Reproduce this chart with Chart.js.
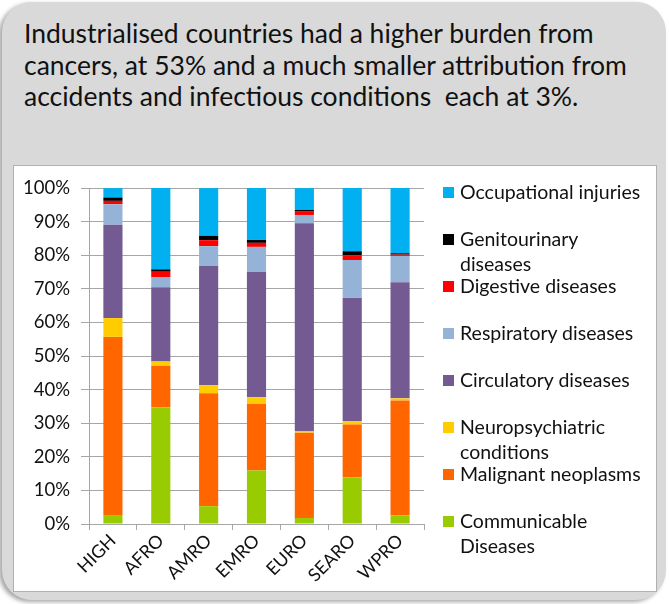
<!DOCTYPE html>
<html lang="en">
<head>
    <meta charset="UTF-8">
    <title>Burden by region</title>
    <script src="https://cdn.jsdelivr.net/npm/chart.js"></script>
    <style>
        html, body {
            margin: 0;
            padding: 0;
            background: #ffffff;
        }
        body {
            width: 669px;
            height: 604px;
            position: relative;
            overflow: hidden;
            font-family: Lato, "Open Sans", sans-serif;
        }
        .panel {
            position: absolute;
            left: 2px;
            top: 2px;
            width: 664px;
            height: 598px;
            background: #d9d9d9;
            border-radius: 30px;
            box-shadow: -3px 2px 4px rgba(0,0,0,0.35);
        }
        .title {
            position: absolute;
            left: 24px;
            top: 18px;
            font-size: 26.5px;
            line-height: 31.5px;
            color: #111;
            white-space: nowrap;
        }
        .chart-box {
            position: absolute;
            left: 13px;
            top: 165px;
            width: 642px;
            height: 425px;
            background: #fff;
            border: 1px solid #b0b0b0;
        }
        .legend {
            position: absolute;
            left: 0;
            top: 0;
        }
        .legend-item {
            position: absolute;
            left: 428px;
            font-size: 19.5px;
            line-height: 24.5px;
            color: #111;
            padding-left: 18px;
            white-space: nowrap;
        }
        .legend-item span.box {
            position: absolute;
            left: 1px;
            top: 7px;
            width: 11px;
            height: 11px;
        }
    </style>
</head>
<body>
    <div class="panel"></div>
    <div class="title">Industrialised countries had a higher burden from<br>cancers, at 53% and a much smaller attribution from<br>accidents and infectious conditions&nbsp; each at 3%.</div>

    <div class="chart-box">
        <canvas id="burdenChart" width="642" height="425"></canvas>
        <div class="legend" id="legend"></div>
    </div>

    <script>
        // Регионы
        const regions = ['HIGH', 'AFRO', 'AMRO', 'EMRO', 'EURO', 'SEARO', 'WPRO'];

        // Доли по группам причин, % (снизу вверх)
        const communicable   = [2.7, 34.7, 5.3, 15.9, 1.8, 13.9, 2.5];
        const malignant      = [53.0, 12.4, 33.6, 19.8, 25.4, 15.7, 34.3];
        const neuro          = [5.6, 1.3, 2.4, 2.0, 0.5, 1.0, 0.6];
        const circulatory    = [27.8, 22.1, 35.6, 37.3, 61.8, 36.7, 34.6];
        const respiratory    = [6.1, 2.9, 5.8, 7.5, 2.5, 11.3, 7.8];
        const digestive      = [1.0, 1.7, 1.8, 1.2, 1.0, 1.4, 0.4];
        const genitourinary  = [1.0, 0.7, 1.3, 0.9, 0.5, 1.2, 0.4];
        const occupational   = [2.8, 24.2, 14.2, 15.4, 6.5, 18.8, 19.4];

        const yTicks = [0, 10, 20, 30, 40, 50, 60, 70, 80, 90, 100];

        const series = [
            { label: ['Communicable', 'Diseases'], data: communicable, color: '#99cc00' },
            { label: ['Malignant neoplasms'], data: malignant, color: '#ff6600' },
            { label: ['Neuropsychiatric', 'conditions'], data: neuro, color: '#ffcc00' },
            { label: ['Circulatory diseases'], data: circulatory, color: '#735a92' },
            { label: ['Respiratory diseases'], data: respiratory, color: '#95b3d7' },
            { label: ['Digestive diseases'], data: digestive, color: '#ff0000' },
            { label: ['Genitourinary', 'diseases'], data: genitourinary, color: '#000000' },
            { label: ['Occupational injuries'], data: occupational, color: '#00b0f0' }
        ];

        // Позиции строк легенды (верх каждой записи внутри белого блока)
        const legendTops = [343, 296, 249, 202, 155, 108, 61, 14];

        const ctx = document.getElementById('burdenChart').getContext('2d');
        const burdenChart = new Chart(ctx, {
            type: 'bar',
            data: {
                labels: regions,
                datasets: series.map(s => ({
                    label: s.label.join(' '),
                    data: s.data,
                    backgroundColor: s.color,
                    borderWidth: 0,
                    barPercentage: 0.4,
                    categoryPercentage: 1.0
                }))
            },
            options: {
                responsive: false,
                animation: false,
                layout: {
                    padding: { left: 0, right: 232, top: 9, bottom: 0 }
                },
                plugins: {
                    legend: { display: false },
                    tooltip: { enabled: false }
                },
                scales: {
                    x: {
                        stacked: true,
                        grid: {
                            display: true,
                            drawOnChartArea: false,
                            drawTicks: true,
                            tickLength: 6,
                            color: '#a6a6a6'
                        },
                        border: { display: true, color: '#a6a6a6' },
                        ticks: {
                            color: '#111',
                            font: { family: 'Lato', size: 18 },
                            maxRotation: 45,
                            minRotation: 45,
                            padding: 0
                        },
                        afterFit: scale => { scale.height = 67; }
                    },
                    y: {
                        stacked: true,
                        min: 0,
                        max: 100,
                        afterBuildTicks: scale => {
                            scale.ticks = yTicks.map(v => ({ value: v }));
                        },
                        grid: {
                            color: '#a6a6a6',
                            tickLength: 8
                        },
                        border: { display: true, color: '#a6a6a6' },
                        ticks: {
                            color: '#111',
                            font: { family: 'Lato', size: 18.5 },
                            padding: 11,
                            callback: v => v + '%'
                        },
                        afterFit: scale => { scale.width = 75; }
                    }
                }
            }
        });

        // Легенда справа (верхняя запись — последний ряд)
        const legend = document.getElementById('legend');
        series.forEach((s, i) => {
            const item = document.createElement('div');
            item.className = 'legend-item';
            item.style.top = legendTops[i] + 'px';
            item.innerHTML = '<span class="box" style="background:' + s.color + '"></span>' + s.label.join('<br>');
            legend.appendChild(item);
        });
    </script>
</body>
</html>
